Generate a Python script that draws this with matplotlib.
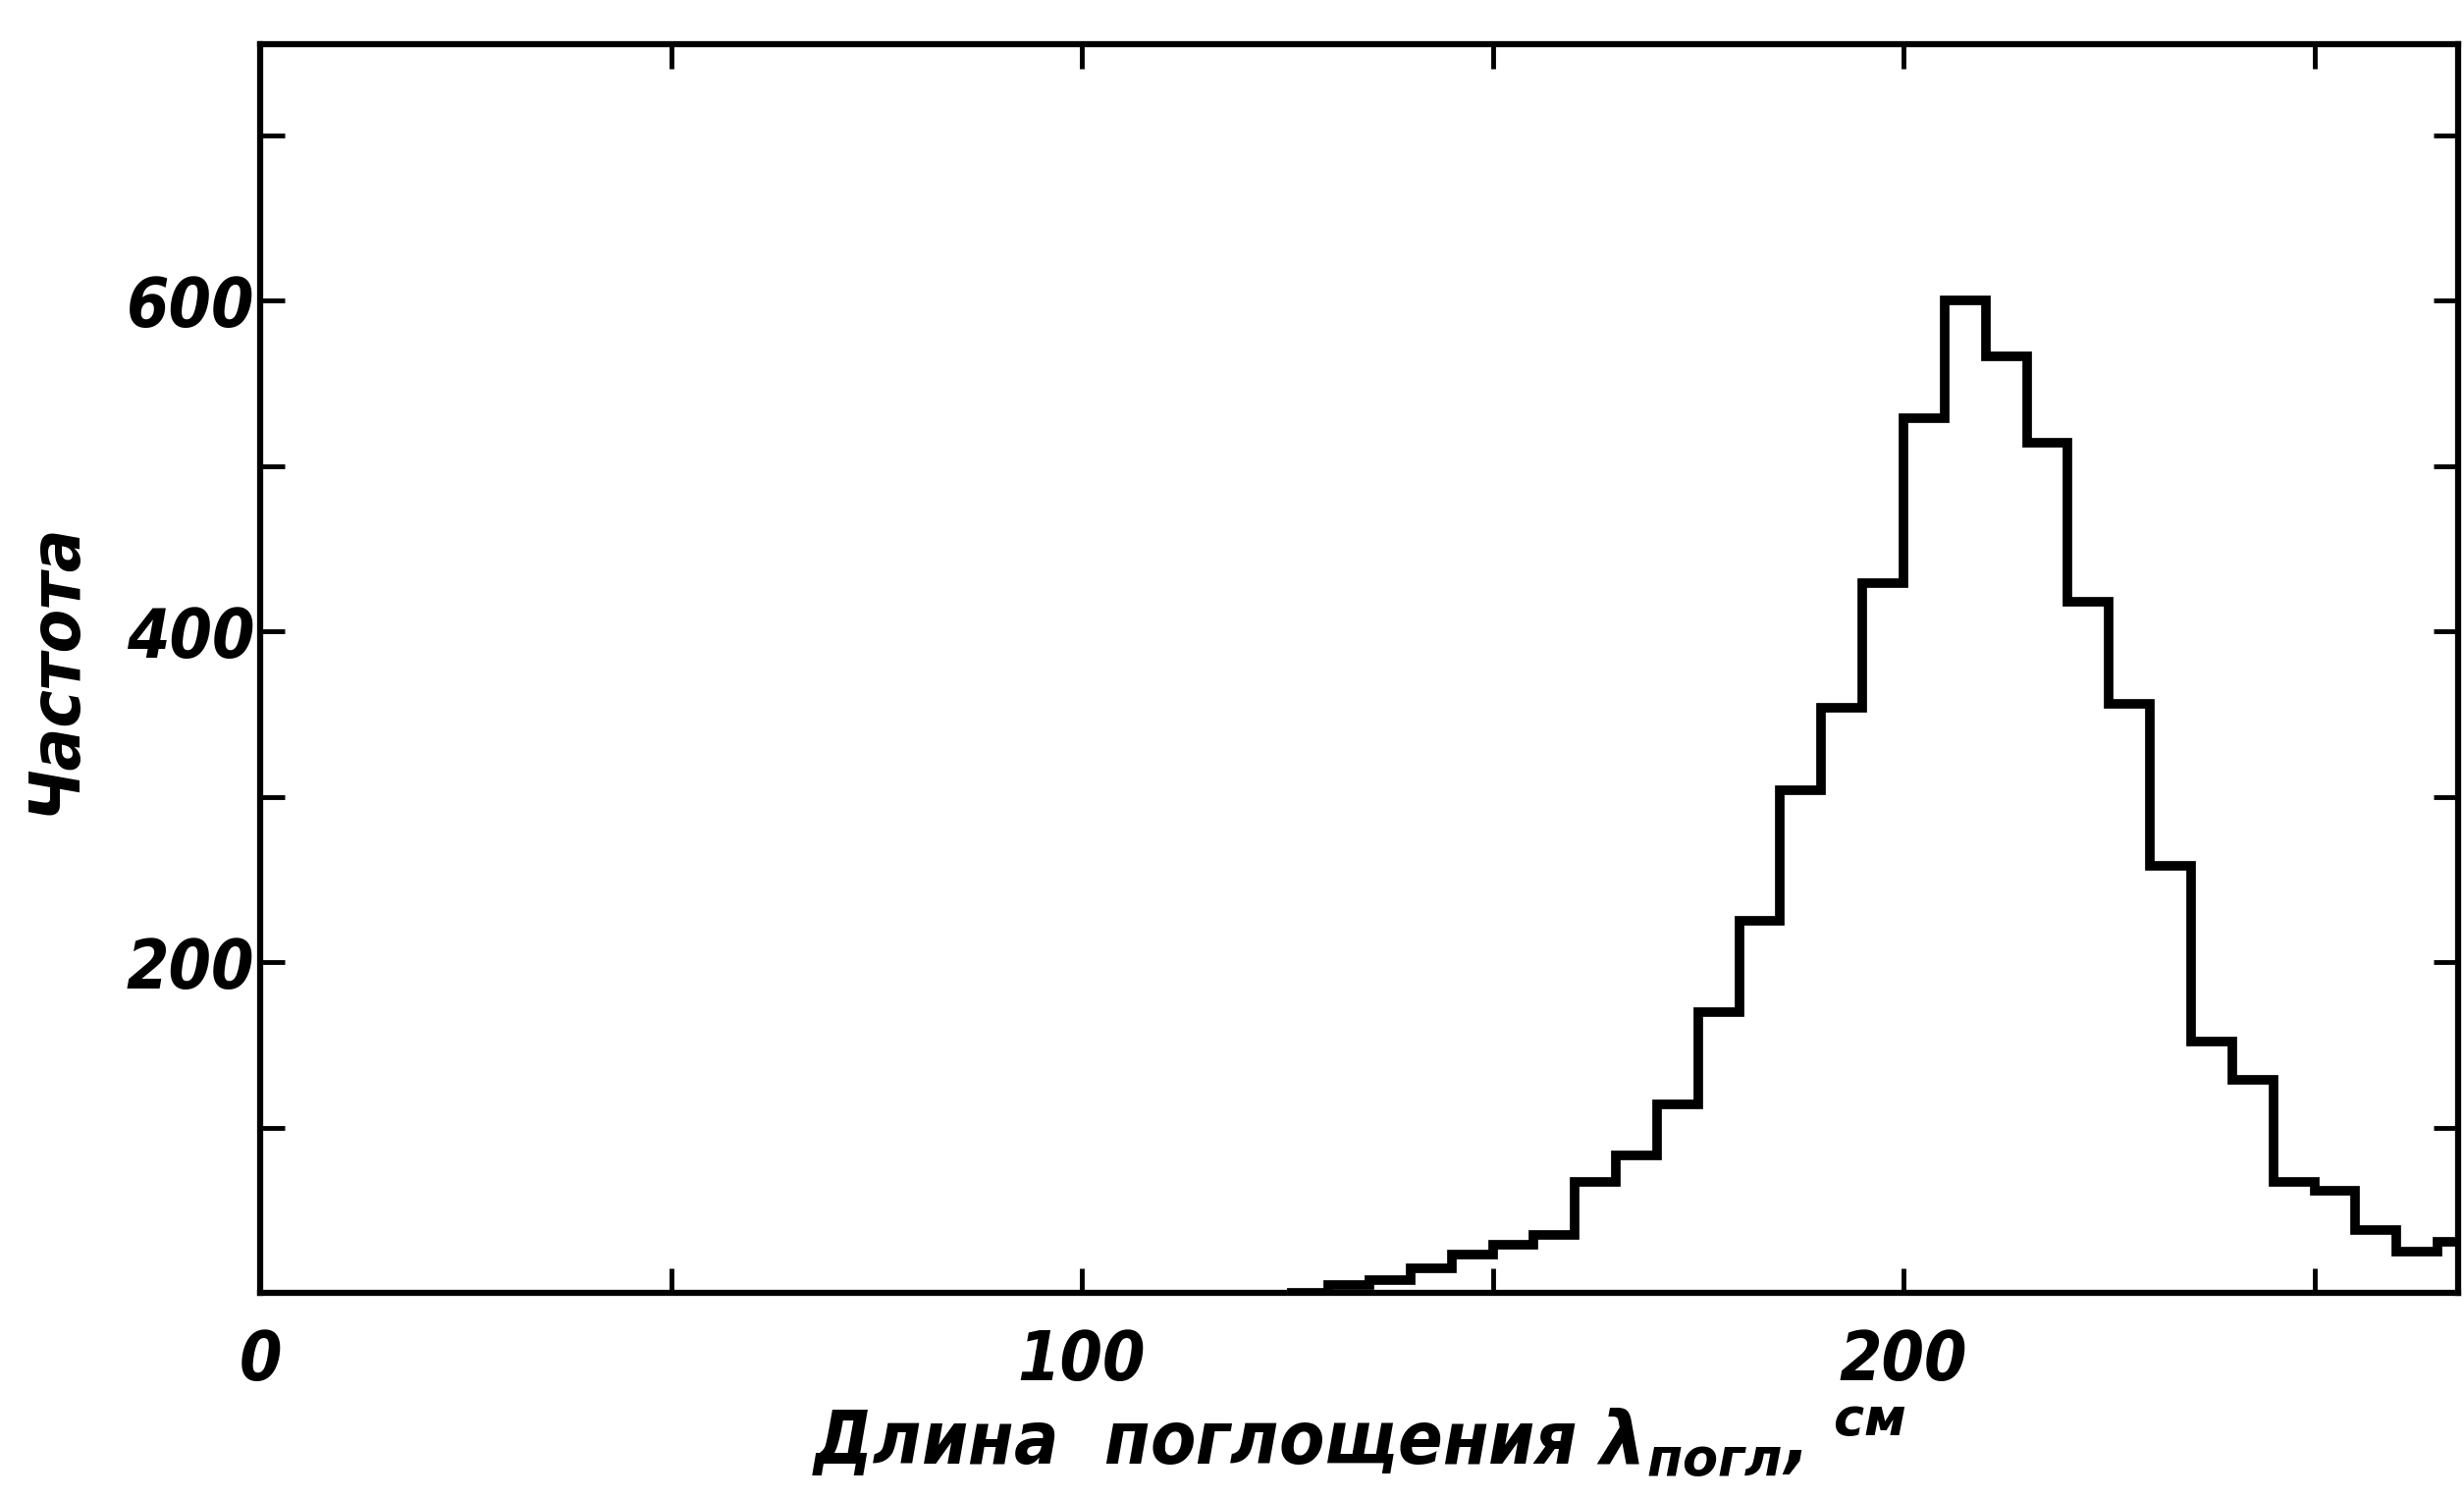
import matplotlib
matplotlib.use("Agg")
import matplotlib.pyplot as plt

# histogram of absorption length, bins of 5 cm
bin_edges = [125, 130, 135, 140, 145, 150, 155, 160, 165, 170, 175, 180, 185, 190,
             195, 200, 205, 210, 215, 220, 225, 230, 235, 240, 245, 250, 255, 260,
             265, 270]
counts = [0, 5, 8, 15, 23, 29, 35, 67, 83, 114, 170, 225, 304, 354,
          429, 529, 600, 566, 514, 418, 356, 258, 152, 129, 67, 62, 38, 25, 31]

x_ticks = [0, 50, 100, 150, 200, 250]
x_labels = ['0', '', '100', '', '200', '']
y_ticks = [100, 200, 300, 400, 500, 600, 700]
y_labels = ['', '200', '', '400', '', '600', '']

plt.rcParams['font.family'] = ['DejaVu Sans']
plt.rcParams['mathtext.fontset'] = 'custom'
plt.rcParams['mathtext.rm'] = 'DejaVu Sans:italic:bold'
plt.rcParams['mathtext.it'] = 'DejaVu Sans:italic:bold'

font = dict(style='italic', weight='bold', stretch='condensed')

fig = plt.figure(figsize=(25.1, 15.27), dpi=100)
ax = fig.add_axes([0.1056, 0.1375, 0.892, 0.833])

ax.stairs(counts, bin_edges, color='black', linewidth=7, baseline=None)

ax.set_xlim(0, 267.5)
ax.set_ylim(0, 755)

ax.set_xticks(x_ticks)
ax.set_xticklabels(x_labels, fontsize=50, **font)
ax.set_yticks(y_ticks)
ax.set_yticklabels(y_labels, fontsize=50, **font)
ax.tick_params(direction='in', length=18, width=3.5, top=True, right=True)
ax.tick_params(axis='x', pad=26)
ax.tick_params(axis='y', pad=4)

for s in ax.spines.values():
    s.set_linewidth(4.5)
    s.set_color('black')

ax.set_ylabel('Частота', fontsize=52, labelpad=28, **font)
ax.set_xlabel('Длина  поглощения $\\lambda_{погл}$, $^{см}$', fontsize=54, labelpad=8, **font)

fig.savefig('out.png', dpi=100)
